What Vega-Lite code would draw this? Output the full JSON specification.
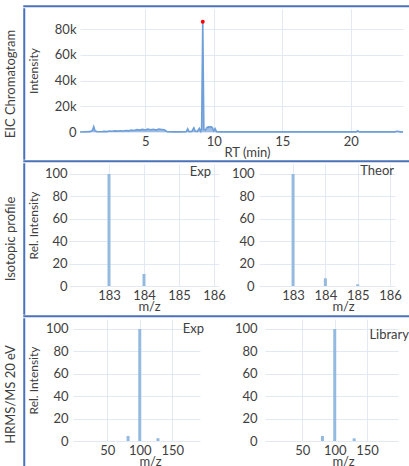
{
  "$schema": "https://vega.github.io/schema/vega-lite/v6.json",
  "background": "white",
  "padding": {"left": 4, "top": 5, "right": 0, "bottom": 0},
  "spacing": 0,
  "config": {
    "font": "Lato",
    "view": {"stroke": null},
    "axis": {
      "gridColor": "#e2e9f4",
      "gridWidth": 1,
      "labelColor": "#404040",
      "titleColor": "#404040",
      "labelFont": "Lato",
      "titleFont": "Lato",
      "labelFontSize": 13,
      "titleFontSize": 13,
      "titleFontWeight": "normal",
      "labelOverlap": false,
      "tickCount": 20,
      "ticks": false,
      "domain": false
    },
    "axisX": {"titleY": 20, "titleBaseline": "middle", "labelPadding": 3, "format": "d"}
  },
  "datasets": {
    "eic": [
      {"rt": 0.25, "intensity": 0},
      {"rt": 1.0, "intensity": 300},
      {"rt": 1.15, "intensity": 1200},
      {"rt": 1.25, "intensity": 4200},
      {"rt": 1.35, "intensity": 800},
      {"rt": 1.5, "intensity": 300},
      {"rt": 1.8, "intensity": 200},
      {"rt": 2.0, "intensity": 500},
      {"rt": 2.2, "intensity": 300},
      {"rt": 2.4, "intensity": 800},
      {"rt": 2.6, "intensity": 600},
      {"rt": 2.8, "intensity": 900},
      {"rt": 3.0, "intensity": 700},
      {"rt": 3.2, "intensity": 1000},
      {"rt": 3.4, "intensity": 800},
      {"rt": 3.6, "intensity": 1200},
      {"rt": 3.8, "intensity": 900},
      {"rt": 4.0, "intensity": 1500},
      {"rt": 4.2, "intensity": 1200},
      {"rt": 4.4, "intensity": 1800},
      {"rt": 4.6, "intensity": 1500},
      {"rt": 4.8, "intensity": 2000},
      {"rt": 5.0, "intensity": 1600},
      {"rt": 5.2, "intensity": 2200},
      {"rt": 5.4, "intensity": 1800},
      {"rt": 5.6, "intensity": 2100},
      {"rt": 5.8, "intensity": 1500},
      {"rt": 6.0, "intensity": 2300},
      {"rt": 6.2, "intensity": 2000},
      {"rt": 6.4, "intensity": 1700},
      {"rt": 6.6, "intensity": 300},
      {"rt": 7.0, "intensity": 100},
      {"rt": 7.5, "intensity": 100},
      {"rt": 8.0, "intensity": 200},
      {"rt": 8.1, "intensity": 2500},
      {"rt": 8.2, "intensity": 300},
      {"rt": 8.4, "intensity": 400},
      {"rt": 8.55, "intensity": 3200},
      {"rt": 8.65, "intensity": 600},
      {"rt": 8.8, "intensity": 500},
      {"rt": 8.95, "intensity": 2800},
      {"rt": 9.05, "intensity": 600},
      {"rt": 9.12, "intensity": 3000},
      {"rt": 9.2, "intensity": 85700},
      {"rt": 9.28, "intensity": 2000},
      {"rt": 9.4, "intensity": 1500},
      {"rt": 9.5, "intensity": 3500},
      {"rt": 9.6, "intensity": 4000},
      {"rt": 9.7, "intensity": 3800},
      {"rt": 9.8, "intensity": 4100},
      {"rt": 9.9, "intensity": 3500},
      {"rt": 10.0, "intensity": 1000},
      {"rt": 10.1, "intensity": 2600},
      {"rt": 10.2, "intensity": 300},
      {"rt": 10.5, "intensity": 100},
      {"rt": 12.0, "intensity": 100},
      {"rt": 15.0, "intensity": 100},
      {"rt": 18.0, "intensity": 100},
      {"rt": 20.4, "intensity": 100},
      {"rt": 20.5, "intensity": 900},
      {"rt": 20.6, "intensity": 100},
      {"rt": 23.2, "intensity": 100},
      {"rt": 23.4, "intensity": 600},
      {"rt": 23.6, "intensity": 100},
      {"rt": 23.8, "intensity": 100}
    ],
    "iso_exp": [{"mz": 183, "rel": 100}, {"mz": 184, "rel": 10.7}],
    "iso_theor": [{"mz": 183, "rel": 100}, {"mz": 184, "rel": 6.9}, {"mz": 185, "rel": 1.5}],
    "ms_exp": [{"mz": 82, "rel": 4.5}, {"mz": 100, "rel": 100}, {"mz": 128, "rel": 2.5}],
    "ms_lib": [{"mz": 81, "rel": 4.5}, {"mz": 100, "rel": 100}, {"mz": 130, "rel": 2.4}]
  },
  "vconcat": [
    {"hconcat": [
      {"title": {"text": "\u200b", "orient": "left", "anchor": "middle", "offset": 6, "fontSize": 13, "fontWeight": "normal", "font": "Lato", "color": "#404040"},
       "width": 386, "height": 0.5, "view": {"stroke": "#4a72b8", "strokeWidth": 1.5},
       "data": {"values": []}, "mark": "point"}
    ]},
    {"hconcat": [
      {"title": {"text": "EIC Chromatogram", "orient": "left", "anchor": "middle", "offset": 6, "fontSize": 13, "fontWeight": "normal", "font": "Lato", "color": "#404040"},
       "width": 0.5, "height": 150, "view": {"stroke": "#4a72b8", "strokeWidth": 1.5},
       "data": {"values": []}, "mark": "point"},
      {"width": 323, "height": 123,
       "data": {"name": "eic"},
       "layer": [
         {"mark": {"type": "area", "color": "#7ba7dc", "opacity": 0.75, "line": {"color": "#6f9fd8", "strokeWidth": 1.6}},
          "encoding": {
            "x": {"field": "rt", "type": "quantitative", "scale": {"domain": [0.25, 23.8], "nice": false, "zero": false},
                  "axis": {"values": [5, 10, 15, 20], "title": "RT (min)", "titleX": 167, "grid": true}},
            "y": {"field": "intensity", "type": "quantitative", "scale": {"domain": [0, 95534], "nice": false},
                  "axis": {"values": [0, 20000, 40000, 60000, 80000], "labelExpr": "datum.value == 0 ? '0' : (datum.value / 1000) + 'k'", "title": "Intensity", "titleFontSize": 12, "labelPadding": 4, "titlePadding": 14}}
          }},
         {"transform": [{"filter": "datum.intensity > 80000"}],
          "mark": {"type": "point", "filled": true, "color": "#ff0000", "size": 16, "opacity": 1},
          "encoding": {
            "x": {"field": "rt", "type": "quantitative"},
            "y": {"field": "intensity", "type": "quantitative"}
          }}
       ]}
    ], "spacing": 1},
    {"hconcat": [
      {"title": {"text": "\u200b", "orient": "left", "anchor": "middle", "offset": 6, "fontSize": 13, "fontWeight": "normal", "font": "Lato", "color": "#404040"},
       "width": 386, "height": 0.5, "view": {"stroke": "#4a72b8", "strokeWidth": 1.5},
       "data": {"values": []}, "mark": "point"}
    ]},
    {"hconcat": [
      {"title": {"text": "Isotopic profile", "orient": "left", "anchor": "middle", "offset": 6, "fontSize": 13, "fontWeight": "normal", "font": "Lato", "color": "#404040"},
       "width": 0.5, "height": 150, "view": {"stroke": "#4a72b8", "strokeWidth": 1.5},
       "data": {"values": []}, "mark": "point"},
      {"hconcat": [
        {"width": 150, "height": 122,
         "layer": [
           {"data": {"name": "iso_exp"},
            "mark": {"type": "bar", "size": 3, "color": "#94badf"},
            "encoding": {
              "x": {"field": "mz", "type": "quantitative", "scale": {"domain": [182, 186], "nice": false, "zero": false},
                    "axis": {"values": [183, 184, 185, 186], "title": "m/z", "titleX": 80, "grid": true}},
              "y": {"field": "rel", "type": "quantitative", "scale": {"domain": [0, 108.9], "nice": false},
                    "axis": {"values": [0, 20, 40, 60, 80, 100], "format": "d", "title": "Rel. Intensity", "titleFontSize": 12, "labelPadding": 2, "titlePadding": 4}}
            }},
           {"data": {"values": [{"label": "Exp"}]},
            "mark": {"type": "text", "align": "right", "baseline": "middle", "dx": -3, "fontSize": 13, "color": "#404040"},
            "encoding": {"x": {"datum": 186}, "y": {"datum": 101.8}, "text": {"field": "label"}}}
         ]},
        {"width": 136, "height": 122,
         "layer": [
           {"data": {"name": "iso_theor"},
            "mark": {"type": "bar", "size": 3, "color": "#94badf"},
            "encoding": {
              "x": {"field": "mz", "type": "quantitative", "scale": {"domain": [182.1, 186], "nice": false, "zero": false},
                    "axis": {"values": [183, 184, 185, 186], "title": "m/z", "titleX": 84, "grid": true}},
              "y": {"field": "rel", "type": "quantitative", "scale": {"domain": [0, 108.9], "nice": false},
                    "axis": {"values": [0, 20, 40, 60, 80, 100], "format": "d", "title": null, "labelPadding": 5}}
            }},
           {"data": {"values": [{"label": "Theor"}]},
            "mark": {"type": "text", "align": "right", "baseline": "middle", "dx": 4, "fontSize": 13, "color": "#404040"},
            "encoding": {"x": {"datum": 186}, "y": {"datum": 102.7}, "text": {"field": "label"}}}
         ]}
      ], "spacing": 5}
    ], "spacing": 1},
    {"hconcat": [
      {"title": {"text": "\u200b", "orient": "left", "anchor": "middle", "offset": 6, "fontSize": 13, "fontWeight": "normal", "font": "Lato", "color": "#404040"},
       "width": 386, "height": 0.5, "view": {"stroke": "#4a72b8", "strokeWidth": 1.5},
       "data": {"values": []}, "mark": "point"}
    ]},
    {"hconcat": [
      {"title": {"text": "HRMS/MS 20 eV", "orient": "left", "anchor": "middle", "offset": 6, "fontSize": 13, "fontWeight": "normal", "font": "Lato", "color": "#404040"},
       "width": 0.5, "height": 151, "view": {"stroke": "#4a72b8", "strokeWidth": 1.5},
       "data": {"values": []}, "mark": "point"},
      {"hconcat": [
        {"width": 127, "height": 122,
         "layer": [
           {"data": {"name": "ms_exp"},
            "mark": {"type": "bar", "size": 3, "color": "#94badf"},
            "encoding": {
              "x": {"field": "mz", "type": "quantitative", "scale": {"domain": [5, 185], "nice": false, "zero": false},
                    "axis": {"values": [50, 100, 150], "title": "m/z", "titleX": 77, "grid": true}},
              "y": {"field": "rel", "type": "quantitative", "scale": {"domain": [0, 108.9], "nice": false},
                    "axis": {"values": [0, 20, 40, 60, 80, 100], "format": "d", "title": "Rel. Intensity", "titleFontSize": 12, "labelPadding": 5, "titlePadding": 5}}
            }},
           {"data": {"values": [{"label": "Exp"}]},
            "mark": {"type": "text", "align": "right", "baseline": "middle", "dx": 9, "fontSize": 13, "color": "#404040"},
            "encoding": {"x": {"datum": 185}, "y": {"datum": 100}, "text": {"field": "label"}}}
         ]},
        {"width": 133, "height": 122,
         "layer": [
           {"data": {"name": "ms_lib"},
            "mark": {"type": "bar", "size": 3, "color": "#94badf"},
            "encoding": {
              "x": {"field": "mz", "type": "quantitative", "scale": {"domain": [0, 190], "nice": false, "zero": false},
                    "axis": {"values": [50, 100, 150], "title": "m/z", "titleX": 78, "grid": true}},
              "y": {"field": "rel", "type": "quantitative", "scale": {"domain": [0, 108.9], "nice": false},
                    "axis": {"values": [0, 20, 40, 60, 80, 100], "format": "d", "title": null, "labelPadding": 8}}
            }},
           {"data": {"values": [{"label": "Library"}]},
            "mark": {"type": "text", "align": "right", "baseline": "middle", "dx": 16, "fontSize": 13, "color": "#404040"},
            "encoding": {"x": {"datum": 190}, "y": {"datum": 94.6}, "text": {"field": "label"}}}
         ]}
      ], "spacing": 30}
    ], "spacing": 1}
  ]
}
